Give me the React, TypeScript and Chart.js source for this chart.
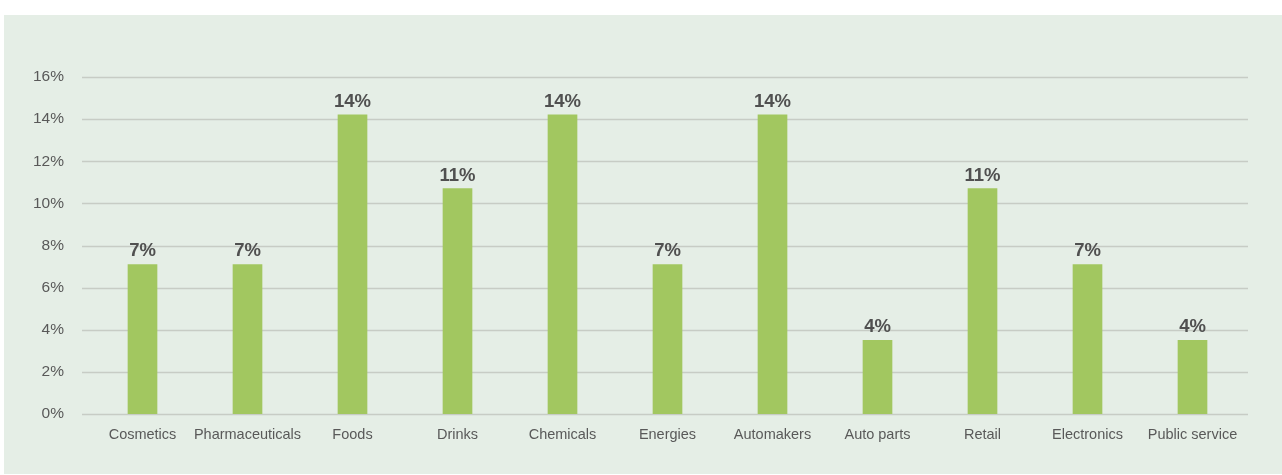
import React, { useEffect, useRef } from "react";
import { Chart, registerables } from "chart.js";

Chart.register(...registerables);

const categories = [
  "Cosmetics",
  "Pharmaceuticals",
  "Foods",
  "Drinks",
  "Chemicals",
  "Energies",
  "Automakers",
  "Auto parts",
  "Retail",
  "Electronics",
  "Public service",
];
const shares = [7.1, 7.1, 14.2, 10.7, 14.2, 7.1, 14.2, 3.5, 10.7, 7.1, 3.5];
const yTicks = [0, 2, 4, 6, 8, 10, 12, 14, 16];

const FONT = "'Liberation Sans', Arial, sans-serif";

const gridPlugin = {
  id: "customGrid",
  beforeDatasetsDraw(chart: any) {
    const { ctx, chartArea, scales } = chart;
    const y = scales.y;
    ctx.save();
    ctx.strokeStyle = "#c7ccc5";
    ctx.lineWidth = 1.3;
    y.ticks.forEach((t: any) => {
      const py = Math.round(y.getPixelForValue(t.value)) + 0.5;
      ctx.beginPath();
      ctx.moveTo(chartArea.left - 8, py);
      ctx.lineTo(chartArea.right + 3, py);
      ctx.stroke();
    });
    ctx.restore();
  },
};

const labelPlugin = {
  id: "barLabels",
  afterDatasetsDraw(chart: any) {
    const { ctx } = chart;
    const meta = chart.getDatasetMeta(0);
    const data = chart.data.datasets[0].data as number[];
    ctx.save();
    ctx.font = `bold 18.5px ${FONT}`;
    ctx.fillStyle = "#505050";
    ctx.textAlign = "center";
    ctx.textBaseline = "alphabetic";
    meta.data.forEach((bar: any, i: number) => {
      ctx.fillText(`${Math.round(data[i])}%`, bar.x, bar.y - 8);
    });
    ctx.restore();
  },
};

export default function App() {
  const ref = useRef<HTMLCanvasElement>(null);

  useEffect(() => {
    if (!ref.current) return;
    const chart = new Chart(ref.current, {
      type: "bar",
      data: {
        labels: categories,
        datasets: [
          {
            data: shares,
            backgroundColor: "#a2c760",
            barThickness: 29,
          },
        ],
      },
      options: {
        responsive: false,
        animation: false,
        layout: { padding: { top: 77, right: 37, left: 0, bottom: 0 } },
        plugins: {
          legend: { display: false },
          tooltip: { enabled: false },
        },
        scales: {
          x: {
            offset: true,
            grid: { display: false, drawTicks: false },
            border: { display: false },
            ticks: {
              color: "#595959",
              font: { family: FONT, size: 14.5 },
              padding: 12,
              maxRotation: 0,
              autoSkip: false,
            },
            afterFit(scale: any) {
              scale.height = 61;
            },
          },
          y: {
            min: 0,
            max: 16,
            afterBuildTicks(scale: any) {
              scale.ticks = yTicks.map((v) => ({ value: v }));
            },
            grid: { display: false, drawTicks: false },
            border: { display: false },
            ticks: {
              color: "#595959",
              font: { family: FONT, size: 15.5 },
              padding: 26,
              callback: (v: any) => `${v}%`,
            },
            afterFit(scale: any) {
              scale.width = 90;
            },
          },
        },
      },
      plugins: [gridPlugin, labelPlugin],
    });
    return () => chart.destroy();
  }, []);

  return (
    <div style={{ position: "absolute", left: 0, top: 0, width: 1282, height: 475, background: "#ffffff" }}>
      <div
        style={{
          position: "absolute",
          left: 4,
          top: 15,
          width: 1278,
          height: 459,
          background: "#e5eee6",
        }}
      />
      <canvas
        ref={ref}
        width={1282}
        height={475}
        style={{ position: "absolute", left: 0, top: 0, width: 1282, height: 475 }}
      />
    </div>
  );
}
